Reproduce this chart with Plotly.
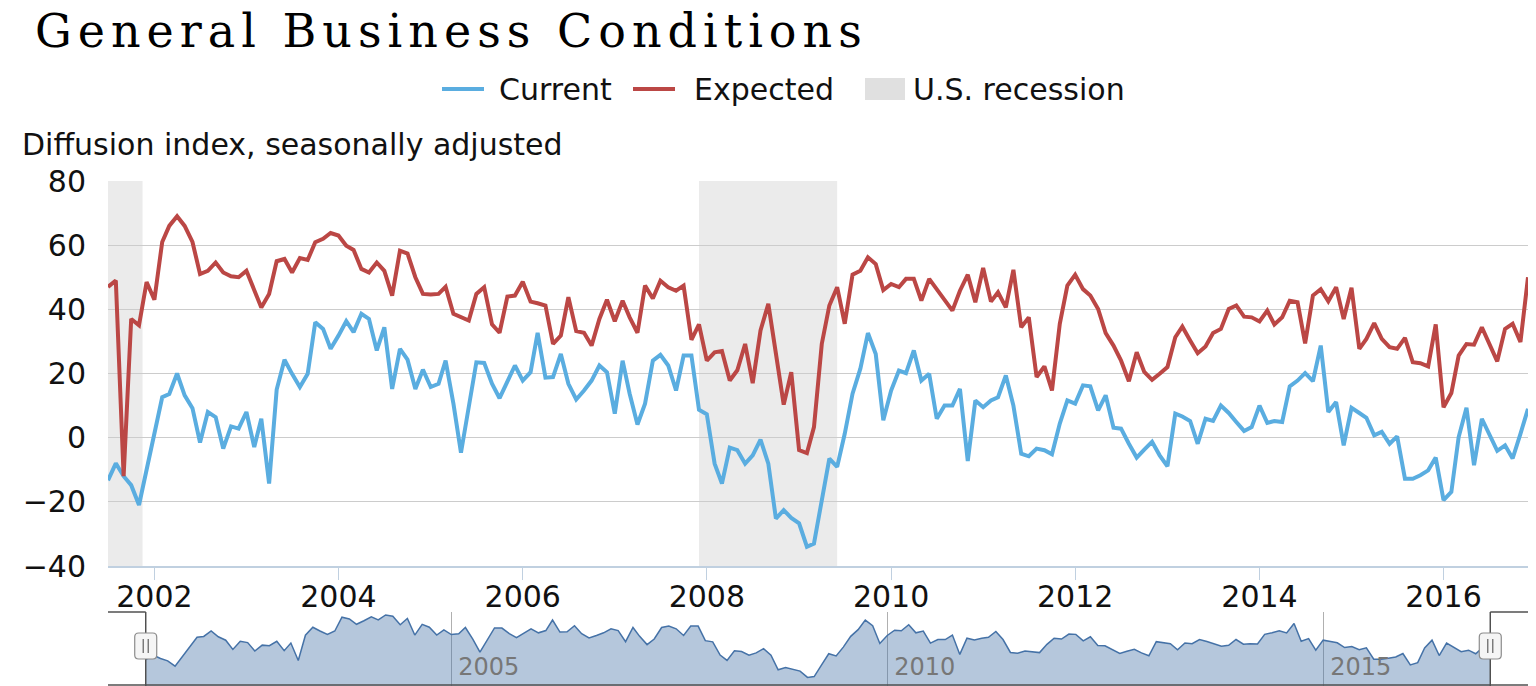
import pandas as pd
import plotly.graph_objects as go

# ---------------- data (monthly, Jul 2001 - Dec 2016) ----------------
START_MONTH = "2001-07-01"

current = [
    -13.3, -8, -12, -14.8, -21, -10, 1.5, 12.6, 13.6, 20, 13.2, 9.2,
    -1.5, 8, 6.4, -3.4, 3.5, 2.8, 8, -2.9, 5.9, -14.3, 15, 24.3,
    19.9, 15.8, 19.9, 36, 33.9, 27.7, 31.8, 36.3, 32.9, 38.6, 37, 27.2,
    34.4, 15.2, 27.7, 24.3, 15.2, 21.2, 15.8, 16.8, 24, 10.6, -4.7, 9,
    23.5, 23.3, 16.8, 12.3, 17.8, 22.5, 17.8, 20.4, 32.7, 18.7, 18.9, 26.1,
    16.8, 11.9, 14.7, 17.8, 22.5, 20.4, 7.5, 24, 13.7, 4.1, 10.6, 24,
    25.8, 22.5, 14.7, 25.6, 25.6, 8.7, 7.3, -8.1, -14.3, -3.1, -3.9, -8.1,
    -5.5, -0.6, -8.1, -25.2, -22.6, -25, -26.7, -34, -33, -19.5, -6.5, -9.1,
    1.2, 13.7, 21.5, 32.6, 26.1, 5.4, 14.7, 20.9, 20.1, 27.2, 17.8, 19.9,
    5.9, 10, 10, 15.2, -7.3, 11.6, 9.5, 11.6, 12.6, 19.4, 10, -5,
    -5.8, -3.4, -3.9, -5.2, 4.4, 11.6, 10.6, 16.3, 16, 8.5, 13.2, 3.1,
    2.8, -1.9, -6.2, -3.7, -1.3, -5.5, -8.9, 7.5, 6.6, 5.2, -1.9, 5.9,
    5.2, 10, 7.7, 4.9, 2.1, 3.3, 10, 4.6, 5.2, 4.9, 16, 17.8,
    20.1, 17.6, 28.7, 8, 11.1, -2.4, 9.3, 7.7, 6.2, 0.7, 1.8, -1.9,
    0.4, -12.8, -12.8, -11.7, -10.2, -6.2, -19.5, -16.9, 0.2, 9.3, -8.6, 5.9,
    0.7, -4.1, -2.4, -6.5, 1.2, 9,
]

expected = [
    47, 49, -12, 37, 35, 48.5, 43, 61, 66, 69, 66, 61,
    51, 52, 54.6, 51.5, 50.3, 50, 52, 46.3, 40.6, 44.8, 55, 55.7,
    51.5, 56, 55.4, 60.9, 62, 63.8, 63, 59.8, 58.5, 52.6, 51.5, 54.6,
    52, 44.3, 58.3, 57.4, 50, 44.8, 44.6, 44.8, 47, 38.6, 37.7, 36.5,
    44.8, 46.9, 35.3, 32.7, 44, 44.3, 48.6, 42.4, 41.9, 41.2, 29.2, 31.8,
    43.8, 33.2, 32.7, 28.7, 37, 43, 36.3, 42.7, 37.5, 32.7, 47.4, 43.4,
    48.9, 46.9, 45.8, 47.4, 30.5, 35.3, 24, 26.6, 27, 17.8, 21, 29.2,
    17, 33.4, 41.7, 27.2, 10.3, 20.4, -3.9, -4.8, 3.3, 29.2, 41.2, 46.9,
    35.5, 50.8, 52, 56.2, 54.1, 46, 47.9, 46.9, 49.5, 49.5, 42.7, 49.5,
    46.3, 42.7, 39.6, 45.8, 50.8, 42.2, 52.9, 42.4, 45.3, 40.6, 52.3, 34.4,
    37.5, 18.9, 22.2, 14.7, 35.5, 47.4, 50.8, 46.3, 44.3, 40.1, 32.6, 28.7,
    24, 17.6, 26.6, 20.5, 18, 19.9, 22, 31.3, 34.6, 30.3, 26.3, 28.4,
    32.6, 33.9, 40.1, 41.2, 37.7, 37.5, 36.2, 39.6, 35.3, 37.5, 42.7, 42.2,
    29.4, 44.3, 46.3, 42.5, 46.9, 37, 46.7, 27.7, 30.8, 35.7, 30.8, 28.2,
    27.7, 31.1, 23.5, 23.2, 22.2, 35.3, 9.5, 13.9, 25.6, 29.2, 29, 34.4,
    29.2, 23.8, 33.9, 35.5, 29.8, 50,
]

recession_start = ["2001-03-01", "2007-12-01"]
recession_end = ["2001-11-15", "2009-06-01"]

series_names = ["Current", "Expected"]
recession_name = "U.S. recession"
title_text = "General Business Conditions"
y_title_text = "Diffusion index, seasonally adjusted"

dates = pd.date_range(START_MONTH, periods=len(current), freq="MS")

# ---------------- styling ----------------
BLUE = "#5aade0"
RED = "#bb4745"
REC_FILL = "#ebebeb"
NAV_LINE = "#4572A7"
NAV_FILL = "rgba(69,114,167,0.4)"
GRID = "#cccccc"
AXIS = "#c0d0e0"
SANS = "DejaVu Sans"
TXT = "#111111"

W, H = 1536, 686
L, R, T, B = 108, 8, 181, 0
plot_w = W - L - R
plot_h = H - T - B
main_bottom_px = 566
nav_top_px = 612
main_dom = [(H - main_bottom_px) / plot_h, 1]
nav_dom = [0, (H - nav_top_px) / plot_h]


def px_x(px):
    return (px - L) / plot_w


def px_y(py):
    return (H - B - py) / plot_h


NAV_Y_RANGE = [-44, 42]
nav_pad = pd.Timedelta(days=158)
nav_range = [dates[0] - nav_pad, dates[-1] + nav_pad]

fig = go.Figure()

fig.add_trace(go.Scatter(
    x=dates, y=current, name=series_names[0], mode="lines",
    line=dict(color=BLUE, width=4), showlegend=False,
))
fig.add_trace(go.Scatter(
    x=dates, y=expected, name=series_names[1], mode="lines",
    line=dict(color=RED, width=4), showlegend=False,
))

# navigator (mini chart of the Current series)
fig.add_trace(go.Scatter(
    x=dates, y=[NAV_Y_RANGE[0]] * len(dates), xaxis="x2", yaxis="y2",
    mode="lines", line=dict(width=0), showlegend=False, hoverinfo="skip",
))
fig.add_trace(go.Scatter(
    x=dates, y=current, xaxis="x2", yaxis="y2", mode="lines",
    line=dict(color=NAV_LINE, width=1.5), fill="tonexty", fillcolor=NAV_FILL,
    showlegend=False, hoverinfo="skip",
))

# recession bands
for s, e in zip(recession_start, recession_end):
    fig.add_shape(
        type="rect", xref="x", yref="y domain", x0=s, x1=e, y0=0, y1=1,
        fillcolor=REC_FILL, line=dict(width=0), layer="below",
    )

# navigator outline
OUT = dict(color="#505050", width=1.5)
ytop = nav_dom[1]
fig.add_shape(type="line", xref="x2", yref="paper", x0=nav_range[0], x1=dates[0], y0=ytop, y1=ytop, line=OUT)
fig.add_shape(type="line", xref="x2", yref="paper", x0=dates[0], x1=dates[0], y0=0, y1=ytop, line=OUT)
fig.add_shape(type="line", xref="x2", yref="paper", x0=dates[-1], x1=dates[-1], y0=0, y1=ytop, line=OUT)
fig.add_shape(type="line", xref="x2", yref="paper", x0=dates[-1], x1=nav_range[1], y0=ytop, y1=ytop, line=OUT)
fig.add_shape(type="line", xref="paper", yref="paper", x0=0, x1=1, y0=px_y(685), y1=px_y(685), line=OUT)

# navigator handles
handle_y = px_y(646)
handle_path = ("M-7,-13 L7,-13 Q11,-13 11,-9 L11,9 Q11,13 7,13 L-7,13 "
               "Q-11,13 -11,9 L-11,-9 Q-11,-13 -7,-13 Z")
grip_path = "M-2.5,-7 L-2.5,7 M2.5,-7 L2.5,7"
for d in (dates[0], dates[-1]):
    fig.add_shape(type="path", xref="x2", yref="paper", xsizemode="pixel", ysizemode="pixel",
                  xanchor=d, yanchor=handle_y, path=handle_path,
                  fillcolor="#f5f5f5", line=dict(color="#8c8c8c", width=1.2))
    fig.add_shape(type="path", xref="x2", yref="paper", xsizemode="pixel", ysizemode="pixel",
                  xanchor=d, yanchor=handle_y, path=grip_path,
                  line=dict(color="#606060", width=1.2))

# legend (drawn manually to match the wide symbols of the original)
leg_y = px_y(89)
legend_items = [
    ("line", BLUE, 442, 484, series_names[0], 497),
    ("line", RED, 633, 675, series_names[1], 692),
    ("box", "#e0e0e0", 865, 905, recession_name, 911),
]
for kind, col, x0, x1, label, tx in legend_items:
    if kind == "line":
        fig.add_shape(type="line", xref="paper", yref="paper",
                      x0=px_x(x0), x1=px_x(x1), y0=leg_y, y1=leg_y,
                      line=dict(color=col, width=4))
    else:
        fig.add_shape(type="rect", xref="paper", yref="paper",
                      x0=px_x(x0), x1=px_x(x1), y0=px_y(100), y1=px_y(78),
                      fillcolor=col, line=dict(width=0))
    fig.add_annotation(text=label, xref="paper", yref="paper", x=px_x(tx), y=leg_y,
                       xanchor="left", yanchor="middle", showarrow=False,
                       font=dict(family=SANS, size=30, color=TXT))

# y-axis caption
fig.add_annotation(
    text=y_title_text, xref="paper", yref="paper",
    x=px_x(20), y=px_y(145),
    xanchor="left", yanchor="middle", showarrow=False,
    font=dict(family=SANS, size=30, color=TXT),
)

fig.update_layout(
    width=W, height=H,
    margin=dict(l=L, r=R, t=T, b=B, autoexpand=False),
    paper_bgcolor="white", plot_bgcolor="white",
    title=dict(text='<span style="letter-spacing:6px">' + title_text + "</span>",
               x=35 / W, xanchor="left", xref="container",
               y=1 - 31 / H, yanchor="middle", yref="container",
               font=dict(family="DejaVu Serif", size=46, color="#000000")),
    showlegend=False,
    xaxis=dict(
        type="date", domain=[0, 1], anchor="y",
        range=[dates[0], dates[-1]],
        tick0="2002-01-01", dtick="M24", tickformat="%Y",
        ticks="outside", ticklen=12, tickcolor=AXIS, tickwidth=1,
        showline=True, linecolor=AXIS, linewidth=1.5,
        showgrid=False, zeroline=False,
        tickfont=dict(family=SANS, size=30, color=TXT),
        ticklabelstandoff=-9,
    ),
    yaxis=dict(
        domain=main_dom, anchor="x",
        range=[-40, 80], tick0=0, dtick=20,
        showgrid=True, gridcolor=GRID, gridwidth=1.3,
        zeroline=False, showline=False, ticks="",
        tickfont=dict(family=SANS, size=30, color=TXT),
        ticklabelstandoff=21,
    ),
    xaxis2=dict(
        type="date", domain=[0, 1], anchor="y2",
        range=nav_range,
        tick0="2005-01-01", dtick="M60", tickformat="%Y",
        showgrid=True, gridcolor="#b0b0b0", gridwidth=1,
        ticks="", showline=False, zeroline=False,
        ticklabelposition="inside right", ticklabelshift=7,
        tickfont=dict(family=SANS, size=24, color="#777777"),
    ),
    yaxis2=dict(
        domain=nav_dom, anchor="x2", range=NAV_Y_RANGE,
        showgrid=False, zeroline=False, showticklabels=False, ticks="",
    ),
)

fig.write_html("out.html", config={"displayModeBar": False},
               post_script="document.body.style.margin='0';")
